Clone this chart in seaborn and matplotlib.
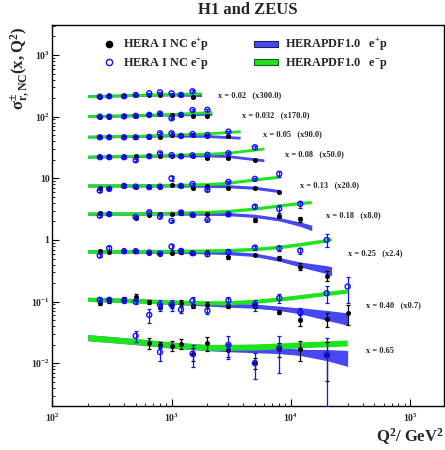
import numpy as np
import matplotlib
matplotlib.use("Agg")
import matplotlib.pyplot as plt
import seaborn as sns
from matplotlib.lines import Line2D
from matplotlib.patches import Patch
from matplotlib.ticker import FixedLocator, FixedFormatter, LogLocator, NullFormatter

# ---------------- data ----------------
x_bins = ["0.02", "0.032", "0.05", "0.08", "0.13", "0.18", "0.25", "0.40", "0.65"]
scale_labels = ["(x300.0)", "(x170.0)", "(x90.0)", "(x50.0)", "(x20.0)", "(x8.0)", "(x2.4)", "(x0.7)", ""]

# HERA I NC e+p data (scaled values as plotted)
q_ep = [
    [250, 300, 400, 500, 650, 800, 1000, 1200, 1500],
    [250, 300, 400, 500, 650, 800, 1000, 1200, 1500, 2000],
    [250, 300, 400, 500, 650, 800, 1000, 1200, 1500, 2000, 3000],
    [250, 300, 400, 500, 650, 800, 1000, 1200, 1500, 2000, 3000, 5000],
    [250, 300, 400, 500, 650, 800, 1000, 1200, 1500, 2000, 3000, 5000, 8000],
    [250, 300, 500, 650, 800, 1000, 1200, 1500, 2000, 3000, 5000, 8000, 12000],
    [250, 300, 400, 500, 650, 800, 1000, 1200, 1500, 2000, 3000, 5000, 8000, 12000, 20000],
    [250, 300, 400, 500, 650, 800, 1000, 1200, 1500, 2000, 3000, 5000, 8000, 12000, 20000, 30000],
    [650, 800, 1000, 1200, 1500, 2000, 3000, 5000, 8000, 12000, 20000],
]
ep = [
    [211, 214, 214, 225, 225, 225, 225, 222, 208],
    [100, 100, 101, 103, 107, 112, 107, 107, 104, 104],
    [46.3, 46.3, 46.3, 46.3, 46.9, 46.3, 50.5, 48.7, 50.5, 48.7, 49.0],
    [22.0, 22.0, 22.0, 22.8, 22.8, 22.8, 23.2, 22.8, 23.2, 21.2, 21.5, 20.1],
    [6.91, 6.91, 7.53, 7.34, 7.18, 7.34, 7.91, 7.53, 6.91, 7.53, 6.91, 7.07, 6.03],
    [2.72, 2.62, 2.31, 2.55, 2.65, 2.68, 2.78, 2.55, 2.62, 2.60, 2.12, 2.41, 2.15],
    [0.665, 0.641, 0.658, 0.658, 0.625, 0.602, 0.625, 0.634, 0.610, 0.641, 0.526, 0.574, 0.513, 0.371, 0.265],
    [0.0966, 0.103, 0.111, 0.118, 0.098, 0.083, 0.089, 0.095, 0.086, 0.089, 0.086, 0.089, 0.069, 0.0507, 0.052, 0.065],
    [0.0217, 0.0199, 0.0194, 0.0207, 0.0143, 0.0213, 0.0166, 0.0101, 0.0170, 0.0172, 0.0137],
]
ep_err = [
    [0.02, 0.02, 0.02, 0.02, 0.02, 0.02, 0.02, 0.02, 0.02],
    [0.02, 0.02, 0.02, 0.02, 0.02, 0.02, 0.02, 0.02, 0.02, 0.02],
    [0.02, 0.02, 0.02, 0.02, 0.02, 0.02, 0.02, 0.02, 0.02, 0.02, 0.03],
    [0.02, 0.02, 0.02, 0.02, 0.02, 0.02, 0.02, 0.02, 0.02, 0.03, 0.03, 0.04],
    [0.03, 0.03, 0.03, 0.03, 0.03, 0.03, 0.03, 0.03, 0.03, 0.03, 0.04, 0.04, 0.05],
    [0.04, 0.04, 0.05, 0.04, 0.04, 0.04, 0.10, 0.04, 0.04, 0.05, 0.08, 0.06, 0.10],
    [0.05, 0.05, 0.04, 0.05, 0.04, 0.04, 0.04, 0.05, 0.04, 0.04, 0.06, 0.05, 0.08, 0.12, 0.18],
    [0.08, 0.08, 0.08, 0.12, 0.08, 0.10, 0.12, 0.10, 0.08, 0.10, 0.08, 0.12, 0.08, 0.20, 0.25, 0.36],
    [0.20, 0.12, 0.18, 0.18, 0.25, 0.25, 0.25, 0.20, 0.26, 0.36, 0.62],
]

# HERA I NC e-p data
q_em = [
    [250, 300, 400, 500, 650, 800, 1000, 1200, 1500],
    [250, 300, 400, 500, 650, 800, 1000, 1200, 1500, 2000],
    [250, 300, 400, 500, 650, 800, 1000, 1200, 1500, 2000, 3000],
    [250, 300, 400, 500, 650, 800, 1000, 1200, 1500, 2000, 3000, 5000],
    [250, 300, 400, 500, 650, 800, 1000, 1200, 1500, 2000, 3000, 5000, 8000],
    [250, 300, 500, 650, 800, 1000, 1200, 1500, 2000, 3000, 5000, 8000, 12000],
    [250, 300, 400, 500, 650, 800, 1000, 1200, 1500, 2000, 3000, 5000, 8000, 12000, 20000],
    [250, 300, 400, 500, 650, 800, 1000, 1200, 1500, 2000, 3000, 5000, 8000, 12000, 20000, 30000],
    [500, 800, 1500, 3000, 5000, 8000, 20000],
]
em = [
    [211, 214, 214, 225, 239, 248, 239, 225, 258],
    [100, 100, 101, 103, 107, 112, 94, 107, 128, 129],
    [46.3, 46.3, 46.3, 46.3, 46.9, 53.8, 53.8, 48.7, 52.2, 50.5, 57.1],
    [22.0, 22.0, 22.0, 19.6, 22.8, 25.5, 23.8, 22.8, 23.6, 24.1, 25.5, 31.9],
    [6.33, 6.73, 7.53, 7.34, 7.18, 7.34, 10.0, 7.53, 8.11, 6.49, 8.75, 9.78, 11.8],
    [2.48, 2.62, 2.35, 2.82, 2.39, 2.04, 2.78, 2.55, 2.12, 2.62, 3.47, 3.20, 3.85],
    [0.558, 0.736, 0.658, 0.658, 0.625, 0.602, 0.782, 0.665, 0.610, 0.588, 0.641, 0.753, 0.736, 0.673, 1.00],
    [0.107, 0.107, 0.104, 0.100, 0.061, 0.089, 0.089, 0.074, 0.103, 0.071, 0.104, 0.089, 0.114, 0.0665, 0.137, 0.176],
    [0.0279, 0.0152, 0.0143, 0.0199, 0.0101, 0.0176, 0.0137],
]
em_err = [
    [0.02, 0.02, 0.02, 0.02, 0.02, 0.02, 0.02, 0.02, 0.03],
    [0.02, 0.02, 0.02, 0.02, 0.02, 0.02, 0.03, 0.02, 0.03, 0.03],
    [0.02, 0.02, 0.02, 0.02, 0.02, 0.03, 0.03, 0.02, 0.03, 0.03, 0.04],
    [0.02, 0.02, 0.02, 0.03, 0.02, 0.03, 0.03, 0.02, 0.03, 0.03, 0.04, 0.05],
    [0.04, 0.04, 0.03, 0.03, 0.03, 0.03, 0.10, 0.03, 0.04, 0.04, 0.05, 0.05, 0.10],
    [0.04, 0.04, 0.05, 0.05, 0.05, 0.05, 0.06, 0.05, 0.05, 0.05, 0.06, 0.15, 0.13],
    [0.06, 0.08, 0.05, 0.05, 0.05, 0.05, 0.12, 0.06, 0.05, 0.06, 0.08, 0.08, 0.10, 0.12, 0.24],
    [0.08, 0.08, 0.08, 0.08, 0.25, 0.20, 0.20, 0.12, 0.16, 0.12, 0.16, 0.20, 0.18, 0.18, 0.30, 0.45],
    [0.20, 0.27, 0.40, 0.40, 0.45, 0.60, 0.85],
]

# HERAPDF1.0 predictions
q_fit = [
    [200, 500, 1000, 1800],
    [200, 500, 1000, 2200],
    [200, 500, 1000, 2000, 3800],
    [200, 500, 1000, 2000, 3000, 6000],
    [200, 500, 1000, 2000, 3000, 5000, 8000],
    [200, 500, 1000, 2000, 3000, 5000, 8000, 12000, 15000],
    [200, 500, 1000, 2000, 3000, 5000, 8000, 12000, 20000, 22000],
    [200, 500, 1000, 2000, 3000, 5000, 8000, 12000, 20000, 30000],
    [200, 500, 1000, 2000, 3000, 5000, 8000, 12000, 20000, 30000],
]
fit_ep = [
    [210, 220, 224, 219],
    [100, 103, 106, 109],
    [46.5, 47.5, 48.5, 47.6, 44.7],
    [22.0, 22.5, 23.0, 23.0, 22.5, 19.2],
    [7.5, 7.5, 7.5, 7.4, 7.3, 6.9, 6.1],
    [2.62, 2.63, 2.64, 2.62, 2.58, 2.42, 2.14, 1.80, 1.57],
    [0.64, 0.64, 0.635, 0.625, 0.605, 0.565, 0.48, 0.40, 0.33, 0.31],
    [0.107, 0.102, 0.096, 0.090, 0.086, 0.083, 0.077, 0.071, 0.060, 0.052],
    [0.0256, 0.0221, 0.0194, 0.0176, 0.0169, 0.0163, 0.0158, 0.0150, 0.0136, 0.0120],
]
fit_ep_unc = [  # half-width of the e+p band, in decades
    [0, 0, 0, 0],
    [0, 0, 0, 0],
    [0, 0, 0, 0, 0],
    [0, 0, 0, 0, 0, 0],
    [0, 0, 0, 0, 0, 0, 0],
    [0, 0, 0, 0, 0.005, 0.01, 0.02, 0.035, 0.045],
    [0, 0, 0, 0, 0.005, 0.012, 0.025, 0.04, 0.065, 0.075],
    [0, 0, 0, 0, 0.01, 0.02, 0.03, 0.05, 0.08, 0.10],
    [0, 0, 0, 0.005, 0.01, 0.02, 0.035, 0.05, 0.09, 0.13],
]
fit_em = [
    [210, 221, 228, 235],
    [100, 104, 108, 117],
    [46.5, 48, 50, 52.5, 57.1],
    [22.0, 22.8, 23.6, 24.6, 25.5, 29.9],
    [7.5, 7.55, 7.65, 7.9, 8.3, 9.4, 10.4],
    [2.62, 2.65, 2.70, 2.80, 2.90, 3.16, 3.55, 3.90, 4.04],
    [0.64, 0.645, 0.65, 0.66, 0.67, 0.70, 0.755, 0.835, 0.97, 1.02],
    [0.107, 0.101, 0.097, 0.094, 0.094, 0.099, 0.108, 0.118, 0.133, 0.146],
    [0.0256, 0.0221, 0.0194, 0.0178, 0.0178, 0.0181, 0.0187, 0.0195, 0.0203, 0.0210],
]

xtick_labels = ["10$^{2}$", "10$^{3}$", "10$^{4}$", "10$^{5}$"]
ytick_labels = ["10$^{-2}$", "10$^{-1}$", "1", "10", "10$^{2}$", "10$^{3}$"]

# ---------------- style / layout (not data) ----------------
label_pos = [(2455, 219), (3900, 104), (5890, 52.4), (8950, 24.6), (11960, 7.82),
             (19770, 2.48), (30070, 0.602), (42560, 0.0887), (42560, 0.0161)]
band_lw = [2.0, 2.0, 2.0, 2.0, 2.2, 2.3, 2.5, 3.0, 4.3]

BLUE = "#4848f2"
GREEN = "#1ee41e"
OPEN = "#1010ff"

sns.set_theme(style="ticks")
plt.rcParams.update({
    "font.family": ["Liberation Serif", "DejaVu Serif"],
    "font.weight": "bold",
    "mathtext.fontset": "custom",
    "mathtext.rm": "Liberation Serif:bold",
    "mathtext.it": "Liberation Serif:bold",
    "mathtext.bf": "Liberation Serif:bold",
    "mathtext.sf": "Liberation Serif:bold",
    "mathtext.default": "rm",
    "axes.linewidth": 1.0,
    "axes.edgecolor": "black",
})

fig = plt.figure(figsize=(4.45, 4.5), dpi=100)
ax = fig.add_axes([52.3 / 445, 44 / 450, (443.5 - 52.3) / 445, 381 / 450])
ax.set_xscale("log")
ax.set_yscale("log")

for i in range(len(x_bins)):
    q = np.array(q_fit[i], float)
    fe = np.array(fit_ep[i], float)
    fm = np.array(fit_em[i], float)
    hw = np.array(fit_ep_unc[i], float)
    ax.fill_between(q, fe * 10 ** (-hw), fe * 10 ** hw, color=BLUE, lw=0, zorder=1)
    sns.lineplot(x=q, y=fe, ax=ax, color=BLUE, lw=band_lw[i], estimator=None, sort=False,
                 legend=False, zorder=2, solid_capstyle="butt")
    sns.lineplot(x=q, y=fm, ax=ax, color=GREEN, lw=band_lw[i], estimator=None, sort=False,
                 legend=False, zorder=3, solid_capstyle="butt")

    qp = np.array(q_ep[i], float)
    vp = np.array(ep[i], float)
    ax.errorbar(qp, vp, yerr=vp * np.array(ep_err[i]), fmt="none", ecolor="black",
                elinewidth=0.9, capsize=1.6, capthick=0.9, zorder=4)
    sns.scatterplot(x=qp, y=vp, ax=ax, color="black", s=13, marker="o", linewidth=0,
                    edgecolor="black", legend=False, zorder=5)

    qm = np.array(q_em[i], float)
    vm = np.array(em[i], float)
    ax.errorbar(qm, vm, yerr=vm * np.array(em_err[i]), fmt="none", ecolor=OPEN,
                elinewidth=0.9, capsize=1.6, capthick=0.9, zorder=6)
    sns.scatterplot(x=qm, y=vm, ax=ax, facecolor="none", edgecolor=OPEN, s=13, marker="o",
                    linewidth=1.0, legend=False, zorder=7)

    txt = f"x = {x_bins[i]}"
    if scale_labels[i]:
        txt += "   " + scale_labels[i]
    ax.text(label_pos[i][0], label_pos[i][1], txt, fontsize=6, fontweight="bold",
            ha="left", va="center")

ax.set_xlim(100, 1.91e5)
ax.set_ylim(0.00203, 3063)

ax.xaxis.set_major_locator(FixedLocator([1e2, 1e3, 1e4, 1e5]))
ax.xaxis.set_major_formatter(FixedFormatter(xtick_labels))
ax.xaxis.set_minor_locator(LogLocator(base=10, subs=np.arange(2, 10), numticks=30))
ax.xaxis.set_minor_formatter(NullFormatter())
ax.yaxis.set_major_locator(FixedLocator([1e-2, 1e-1, 1, 10, 1e2, 1e3]))
ax.yaxis.set_major_formatter(FixedFormatter(ytick_labels))
ax.yaxis.set_minor_locator(LogLocator(base=10, subs=np.arange(2, 10), numticks=30))
ax.yaxis.set_minor_formatter(NullFormatter())
ax.tick_params(which="major", direction="in", length=5, width=0.8, labelsize=7,
               top=False, right=False, color="black")
ax.tick_params(axis="x", which="major", pad=4)
ax.tick_params(axis="y", which="major", pad=2)
ax.tick_params(which="minor", direction="in", length=2.5, width=0.6, top=False, right=False,
               color="black")
for s in ax.spines.values():
    s.set_visible(True)
    s.set_color("black")
    s.set_linewidth(1.0)
ax.set_xlabel("")
ax.set_ylabel("")

# legend
h1 = Line2D([], [], ls="none", marker="o", color="black", markersize=4.5)
h2 = Line2D([], [], ls="none", marker="o", mfc="none", mec=OPEN, mew=1.0, markersize=4.5)
h3 = Patch(facecolor=BLUE, edgecolor="#20205a", lw=0.8)
h4 = Patch(facecolor=GREEN, edgecolor="#1a5a1a", lw=0.8)
leg1 = ax.legend([h1, h2], ["HERA I NC e$^{+}$p", "HERA I NC e$^{-}$p"],
                 loc="upper left", bbox_to_anchor=(102.3 / 445, 1 - 37 / 450),
                 bbox_transform=fig.transFigure, frameon=False, borderpad=0,
                 borderaxespad=0, handlelength=1.15, handletextpad=0.58,
                 labelspacing=0.25, prop={"size": 8.8, "weight": "bold"})
ax.add_artist(leg1)
ax.legend([h3, h4], ["HERAPDF1.0   e$^{+}$p", "HERAPDF1.0   e$^{-}$p"],
          loc="upper left", bbox_to_anchor=(254 / 445, 1 - 37 / 450),
          bbox_transform=fig.transFigure, frameon=False, borderpad=0,
          borderaxespad=0, handlelength=1.97, handleheight=0.45, handletextpad=0.57,
          labelspacing=0.25, prop={"size": 8.8, "weight": "bold"})

fig.text(248 / 445, 1 - 10 / 450, "H1 and ZEUS", ha="center", va="center",
         fontsize=12, fontweight="bold")
fig.text(20 / 445, 1 - 27 / 450, r"$\sigma^{\pm}_{r,NC}(x,Q^{2})$", rotation=90,
         ha="center", va="top", fontsize=12)
fig.text(444 / 445, 1 - 437 / 450, "Q$^{2}$/ GeV$^{2}$", ha="right", va="center",
         fontsize=12, fontweight="bold")

fig.savefig("out.png", dpi=100)
